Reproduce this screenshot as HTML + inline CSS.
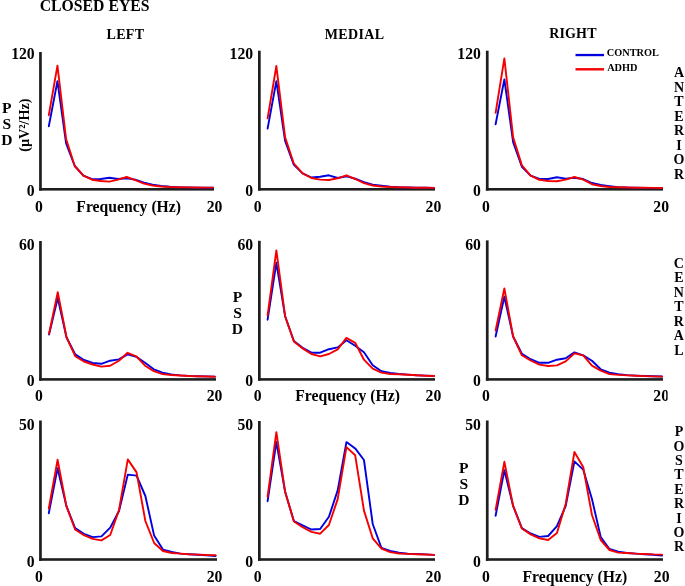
<!DOCTYPE html><html><head><meta charset="utf-8"><style>html,body{margin:0;padding:0;background:#fff;}svg{display:block;will-change:transform;}text{font-family:"Liberation Serif",serif;font-weight:bold;fill:#000;}</style></head><body>
<svg width="685" height="586" viewBox="0 0 685 586">
<rect width="685" height="586" fill="#fff"/>
<rect x="39.1" y="52.0" width="2.7" height="138.60" fill="#1e1e1e"/>
<rect x="39.1" y="188.0" width="174.90" height="2.6" fill="#1e1e1e"/>
<rect x="258.0" y="50.7" width="2.7" height="139.90" fill="#1e1e1e"/>
<rect x="258.0" y="188.0" width="177.00" height="2.6" fill="#1e1e1e"/>
<rect x="485.9" y="50.7" width="2.7" height="139.90" fill="#1e1e1e"/>
<rect x="485.9" y="188.0" width="177.10" height="2.6" fill="#1e1e1e"/>
<rect x="39.1" y="241.0" width="2.7" height="139.70" fill="#1e1e1e"/>
<rect x="39.1" y="378.1" width="176.90" height="2.6" fill="#1e1e1e"/>
<rect x="258.0" y="240.8" width="2.7" height="139.90" fill="#1e1e1e"/>
<rect x="258.0" y="378.1" width="177.00" height="2.6" fill="#1e1e1e"/>
<rect x="485.9" y="240.4" width="2.7" height="140.30" fill="#1e1e1e"/>
<rect x="485.9" y="378.1" width="177.10" height="2.6" fill="#1e1e1e"/>
<rect x="39.1" y="420.5" width="2.7" height="140.30" fill="#1e1e1e"/>
<rect x="39.1" y="558.2" width="177.90" height="2.6" fill="#1e1e1e"/>
<rect x="258.0" y="421.0" width="2.7" height="139.80" fill="#1e1e1e"/>
<rect x="258.0" y="558.2" width="177.00" height="2.6" fill="#1e1e1e"/>
<rect x="485.9" y="420.5" width="2.7" height="140.30" fill="#1e1e1e"/>
<rect x="485.9" y="558.2" width="177.10" height="2.6" fill="#1e1e1e"/>
<polyline points="48.80,126.20 57.45,81.10 66.10,143.40 74.75,166.00 83.40,175.60 92.05,179.20 100.70,179.00 109.35,177.70 118.00,179.00 126.65,178.30 135.30,179.60 143.95,182.60 152.60,184.60 161.25,186.00 169.90,186.80 178.55,187.20 187.20,187.40 195.85,187.60 204.50,187.70 213.15,187.80" fill="none" stroke="#0000e0" stroke-width="1.9" stroke-linejoin="round" stroke-linecap="round"/>
<polyline points="48.80,115.20 57.45,65.60 66.10,139.10 74.75,166.00 83.40,175.60 92.05,179.70 100.70,181.00 109.35,181.60 118.00,179.60 126.65,177.00 135.30,180.20 143.95,183.60 152.60,185.50 161.25,186.50 169.90,187.00 178.55,187.20 187.20,187.40 195.85,187.50 204.50,187.60 213.15,187.60" fill="none" stroke="#f40000" stroke-width="1.9" stroke-linejoin="round" stroke-linecap="round"/>
<polyline points="267.60,128.60 276.36,81.10 285.12,141.00 293.88,164.90 302.64,173.40 311.40,177.50 320.16,176.70 328.92,175.30 337.68,178.00 346.44,176.30 355.20,178.60 363.96,182.20 372.72,184.60 381.48,185.70 390.24,186.70 399.00,187.20 407.76,187.50 416.52,187.70 425.28,187.80 434.04,187.90" fill="none" stroke="#0000e0" stroke-width="1.9" stroke-linejoin="round" stroke-linecap="round"/>
<polyline points="267.60,118.30 276.36,66.00 285.12,137.40 293.88,163.70 302.64,173.40 311.40,178.00 320.16,179.60 328.92,180.00 337.68,178.30 346.44,175.30 355.20,179.00 363.96,183.20 372.72,185.50 381.48,186.50 390.24,187.00 399.00,187.30 407.76,187.50 416.52,187.70 425.28,187.80 434.04,187.90" fill="none" stroke="#f40000" stroke-width="1.9" stroke-linejoin="round" stroke-linecap="round"/>
<polyline points="495.60,124.30 504.36,79.40 513.12,142.20 521.88,166.80 530.64,175.60 539.40,178.90 548.16,179.00 556.92,177.30 565.68,178.60 574.44,177.70 583.20,179.00 591.96,183.00 600.72,185.00 609.48,186.10 618.24,187.10 627.00,187.50 635.76,187.70 644.52,187.90 653.28,188.00 662.04,188.00" fill="none" stroke="#0000e0" stroke-width="1.9" stroke-linejoin="round" stroke-linecap="round"/>
<polyline points="495.60,112.80 504.36,58.40 513.12,137.40 521.88,165.40 530.64,175.60 539.40,179.80 548.16,181.00 556.92,181.20 565.68,179.60 574.44,177.00 583.20,179.60 591.96,184.20 600.72,186.00 609.48,187.00 618.24,187.30 627.00,187.50 635.76,187.70 644.52,187.80 653.28,187.90 662.04,188.00" fill="none" stroke="#f40000" stroke-width="1.9" stroke-linejoin="round" stroke-linecap="round"/>
<polyline points="49.03,334.50 57.76,298.00 66.49,337.30 75.22,354.40 83.95,360.00 92.68,363.00 101.41,363.80 110.14,360.70 118.87,359.40 127.60,354.40 136.33,356.80 145.06,362.80 153.79,369.30 162.52,372.70 171.25,374.50 179.98,375.40 188.71,375.90 197.44,376.20 206.17,376.40 214.90,376.60" fill="none" stroke="#0000e0" stroke-width="1.9" stroke-linejoin="round" stroke-linecap="round"/>
<polyline points="49.03,333.80 57.76,292.10 66.49,337.30 75.22,356.20 83.95,361.50 92.68,364.50 101.41,366.60 110.14,365.80 118.87,360.80 127.60,352.80 136.33,356.40 145.06,365.70 153.79,371.10 162.52,374.10 171.25,375.00 179.98,375.50 188.71,376.00 197.44,376.30 206.17,376.50 214.90,376.80" fill="none" stroke="#f40000" stroke-width="1.9" stroke-linejoin="round" stroke-linecap="round"/>
<polyline points="267.60,319.70 276.36,262.80 285.12,316.20 293.88,341.00 302.64,347.80 311.40,352.70 320.16,352.70 328.92,349.20 337.68,347.40 346.44,340.30 355.20,345.80 363.96,352.20 372.72,365.30 381.48,371.20 390.24,373.00 399.00,374.00 407.76,374.60 416.52,375.20 425.28,375.60 434.04,376.00" fill="none" stroke="#0000e0" stroke-width="1.9" stroke-linejoin="round" stroke-linecap="round"/>
<polyline points="267.60,315.50 276.36,250.40 285.12,316.20 293.88,341.50 302.64,348.40 311.40,354.00 320.16,356.30 328.92,354.00 337.68,349.40 346.44,337.90 355.20,342.80 363.96,359.70 372.72,368.60 381.48,372.60 390.24,374.00 399.00,374.30 407.76,374.80 416.52,375.30 425.28,375.70 434.04,376.00" fill="none" stroke="#f40000" stroke-width="1.9" stroke-linejoin="round" stroke-linecap="round"/>
<polyline points="495.60,336.50 504.36,296.80 513.12,336.50 521.88,353.80 530.64,359.20 539.40,362.80 548.16,362.80 556.92,359.70 565.68,358.20 574.44,352.40 583.20,355.40 591.96,360.80 600.72,369.30 609.48,372.70 618.24,374.10 627.00,375.10 635.76,375.60 644.52,376.00 653.28,376.30 662.04,376.50" fill="none" stroke="#0000e0" stroke-width="1.9" stroke-linejoin="round" stroke-linecap="round"/>
<polyline points="495.60,330.50 504.36,288.50 513.12,336.50 521.88,355.30 530.64,360.50 539.40,364.60 548.16,366.00 556.92,365.40 565.68,361.40 574.44,353.40 583.20,355.40 591.96,365.70 600.72,370.70 609.48,374.10 618.24,374.90 627.00,375.40 635.76,375.80 644.52,376.10 653.28,376.40 662.04,376.60" fill="none" stroke="#f40000" stroke-width="1.9" stroke-linejoin="round" stroke-linecap="round"/>
<polyline points="48.78,513.20 57.56,468.30 66.34,505.90 75.12,528.10 83.90,533.80 92.68,537.10 101.46,536.40 110.24,527.60 119.02,511.00 127.80,474.60 136.58,475.60 145.36,496.00 154.14,535.60 162.92,549.60 171.70,552.00 180.48,553.60 189.26,554.20 198.04,554.80 206.82,555.30 215.60,556.00" fill="none" stroke="#0000e0" stroke-width="1.9" stroke-linejoin="round" stroke-linecap="round"/>
<polyline points="48.78,508.50 57.56,459.80 66.34,505.90 75.12,529.50 83.90,535.20 92.68,538.90 101.46,540.40 110.24,535.00 119.02,510.00 127.80,459.40 136.58,472.40 145.36,521.00 154.14,543.00 162.92,551.00 171.70,553.00 180.48,553.60 189.26,554.20 198.04,554.60 206.82,555.00 215.60,555.20" fill="none" stroke="#f40000" stroke-width="1.9" stroke-linejoin="round" stroke-linecap="round"/>
<polyline points="267.60,501.20 276.36,442.00 285.12,491.80 293.88,521.00 302.64,525.40 311.40,529.50 320.16,529.00 328.92,516.80 337.68,490.40 346.44,442.10 355.20,448.40 363.96,460.00 372.72,524.00 381.48,548.00 390.24,550.90 399.00,552.80 407.76,553.70 416.52,554.00 425.28,554.40 434.04,554.90" fill="none" stroke="#0000e0" stroke-width="1.9" stroke-linejoin="round" stroke-linecap="round"/>
<polyline points="267.60,496.70 276.36,432.10 285.12,491.80 293.88,521.50 302.64,527.20 311.40,531.90 320.16,533.70 328.92,525.00 337.68,499.10 346.44,447.10 355.20,455.30 363.96,510.60 372.72,538.30 381.48,548.60 390.24,552.10 399.00,553.50 407.76,553.90 416.52,554.20 425.28,554.50 434.04,554.90" fill="none" stroke="#f40000" stroke-width="1.9" stroke-linejoin="round" stroke-linecap="round"/>
<polyline points="495.60,515.70 504.36,470.20 513.12,505.90 521.88,528.10 530.64,533.50 539.40,536.90 548.16,536.00 556.92,526.20 565.68,506.00 574.44,461.40 583.20,469.60 591.96,499.00 600.72,537.00 609.48,549.00 618.24,551.60 627.00,553.00 635.76,553.60 644.52,554.20 653.28,554.80 662.04,555.60" fill="none" stroke="#0000e0" stroke-width="1.9" stroke-linejoin="round" stroke-linecap="round"/>
<polyline points="495.60,509.90 504.36,461.80 513.12,505.90 521.88,528.50 530.64,534.40 539.40,538.40 548.16,540.00 556.92,533.00 565.68,504.00 574.44,452.00 583.20,467.00 591.96,515.00 600.72,540.00 609.48,550.00 618.24,552.60 627.00,553.00 635.76,553.60 644.52,554.00 653.28,554.40 662.04,554.60" fill="none" stroke="#f40000" stroke-width="1.9" stroke-linejoin="round" stroke-linecap="round"/>
<text x="39.7" y="10.8" font-size="15.75" text-anchor="start" >CLOSED EYES</text>
<text x="106.6" y="39" font-size="14" text-anchor="start" letter-spacing="0.3">LEFT</text>
<text x="324.8" y="38.6" font-size="14" text-anchor="start" letter-spacing="0.35">MEDIAL</text>
<text x="549.2" y="38.2" font-size="14" text-anchor="start" letter-spacing="0.15">RIGHT</text>
<rect x="575.5" y="53.9" width="28.5" height="2.3" fill="#0000e0"/>
<rect x="575.5" y="68.1" width="28.5" height="2.4" fill="#f40000"/>
<text x="606.8" y="56.3" font-size="10.3" text-anchor="start" >CONTROL</text>
<text x="607.2" y="70.9" font-size="10.3" text-anchor="start" >ADHD</text>
<text x="34.7" y="59.1" font-size="15.7" text-anchor="end" >120</text>
<text x="34.7" y="196.2" font-size="15.7" text-anchor="end" >0</text>
<text x="253.1" y="59.4" font-size="15.7" text-anchor="end" >120</text>
<text x="253.1" y="196.2" font-size="15.7" text-anchor="end" >0</text>
<text x="480.9" y="59.4" font-size="15.7" text-anchor="end" >120</text>
<text x="480.9" y="196.2" font-size="15.7" text-anchor="end" >0</text>
<text x="34.7" y="249.5" font-size="15.7" text-anchor="end" >60</text>
<text x="34.7" y="386.2" font-size="15.7" text-anchor="end" >0</text>
<text x="253.1" y="249.8" font-size="15.7" text-anchor="end" >60</text>
<text x="253.1" y="386.2" font-size="15.7" text-anchor="end" >0</text>
<text x="480.9" y="249.8" font-size="15.7" text-anchor="end" >60</text>
<text x="480.9" y="386.2" font-size="15.7" text-anchor="end" >0</text>
<text x="34.7" y="429.8" font-size="15.7" text-anchor="end" >50</text>
<text x="34.7" y="566.6" font-size="15.7" text-anchor="end" >0</text>
<text x="253.1" y="430.2" font-size="15.7" text-anchor="end" >50</text>
<text x="253.1" y="566.6" font-size="15.7" text-anchor="end" >0</text>
<text x="480.9" y="430.2" font-size="15.7" text-anchor="end" >50</text>
<text x="480.9" y="566.6" font-size="15.7" text-anchor="end" >0</text>
<text x="35.1" y="211.5" font-size="15.7" text-anchor="start" >0</text>
<text x="206.7" y="211.5" font-size="15.7" text-anchor="start" >20</text>
<text x="253.7" y="211.5" font-size="15.7" text-anchor="start" >0</text>
<text x="425.6" y="211.5" font-size="15.7" text-anchor="start" >20</text>
<text x="481.9" y="211.5" font-size="15.7" text-anchor="start" >0</text>
<text x="653.3" y="211.5" font-size="15.7" text-anchor="start" >20</text>
<text x="35.1" y="401.2" font-size="15.7" text-anchor="start" >0</text>
<text x="206.7" y="401.2" font-size="15.7" text-anchor="start" >20</text>
<text x="253.7" y="401.2" font-size="15.7" text-anchor="start" >0</text>
<text x="425.6" y="401.2" font-size="15.7" text-anchor="start" >20</text>
<text x="481.9" y="401.2" font-size="15.7" text-anchor="start" >0</text>
<text x="653.3" y="401.2" font-size="15.7" text-anchor="start" >20</text>
<text x="35.1" y="581.7" font-size="15.7" text-anchor="start" >0</text>
<text x="206.7" y="581.7" font-size="15.7" text-anchor="start" >20</text>
<text x="253.7" y="581.7" font-size="15.7" text-anchor="start" >0</text>
<text x="425.6" y="581.7" font-size="15.7" text-anchor="start" >20</text>
<text x="481.9" y="581.7" font-size="15.7" text-anchor="start" >0</text>
<text x="653.8" y="581.7" font-size="15.7" text-anchor="start" >20</text>
<rect x="667.6" y="387" width="5" height="17" fill="#fff"/>
<text x="76.3" y="211.5" font-size="15.7" text-anchor="start" >Frequency (Hz)</text>
<text x="295.2" y="401.3" font-size="15.7" text-anchor="start" >Frequency (Hz)</text>
<text x="522.5" y="581.6" font-size="15.7" text-anchor="start" >Frequency (Hz)</text>
<text x="6.8" y="113.3" font-size="15.6" text-anchor="middle" >P</text>
<text x="6.8" y="129.05" font-size="15.6" text-anchor="middle" >S</text>
<text x="6.8" y="144.8" font-size="15.6" text-anchor="middle" >D</text>
<text x="237.5" y="302.1" font-size="15.6" text-anchor="middle" >P</text>
<text x="237.5" y="317.95" font-size="15.6" text-anchor="middle" >S</text>
<text x="237.5" y="333.8" font-size="15.6" text-anchor="middle" >D</text>
<text x="463.8" y="472.8" font-size="15.6" text-anchor="middle" >P</text>
<text x="463.8" y="488.7" font-size="15.6" text-anchor="middle" >S</text>
<text x="463.8" y="504.6" font-size="15.6" text-anchor="middle" >D</text>
<text x="0" y="0" font-size="14.2" text-anchor="middle" transform="translate(29.1,125.1) rotate(-90)">(µV²/Hz)</text>
<text x="679.0" y="77.4" font-size="14" text-anchor="middle" >A</text>
<text x="679.0" y="91.9" font-size="14" text-anchor="middle" >N</text>
<text x="679.0" y="106.4" font-size="14" text-anchor="middle" >T</text>
<text x="679.0" y="120.9" font-size="14" text-anchor="middle" >E</text>
<text x="679.0" y="135.4" font-size="14" text-anchor="middle" >R</text>
<text x="679.0" y="149.9" font-size="14" text-anchor="middle" >I</text>
<text x="679.0" y="164.4" font-size="14" text-anchor="middle" >O</text>
<text x="679.0" y="178.9" font-size="14" text-anchor="middle" >R</text>
<text x="678.8" y="267.6" font-size="14" text-anchor="middle" >C</text>
<text x="678.8" y="282.1" font-size="14" text-anchor="middle" >E</text>
<text x="678.8" y="296.6" font-size="14" text-anchor="middle" >N</text>
<text x="678.8" y="311.1" font-size="14" text-anchor="middle" >T</text>
<text x="678.8" y="325.6" font-size="14" text-anchor="middle" >R</text>
<text x="678.8" y="340.1" font-size="14" text-anchor="middle" >A</text>
<text x="678.8" y="354.6" font-size="14" text-anchor="middle" >L</text>
<text x="679.0" y="436.1" font-size="14" text-anchor="middle" >P</text>
<text x="679.0" y="450.5" font-size="14" text-anchor="middle" >O</text>
<text x="679.0" y="464.9" font-size="14" text-anchor="middle" >S</text>
<text x="679.0" y="479.3" font-size="14" text-anchor="middle" >T</text>
<text x="679.0" y="493.7" font-size="14" text-anchor="middle" >E</text>
<text x="679.0" y="508.1" font-size="14" text-anchor="middle" >R</text>
<text x="679.0" y="522.5" font-size="14" text-anchor="middle" >I</text>
<text x="679.0" y="536.9" font-size="14" text-anchor="middle" >O</text>
<text x="679.0" y="551.3" font-size="14" text-anchor="middle" >R</text>
</svg></body></html>
